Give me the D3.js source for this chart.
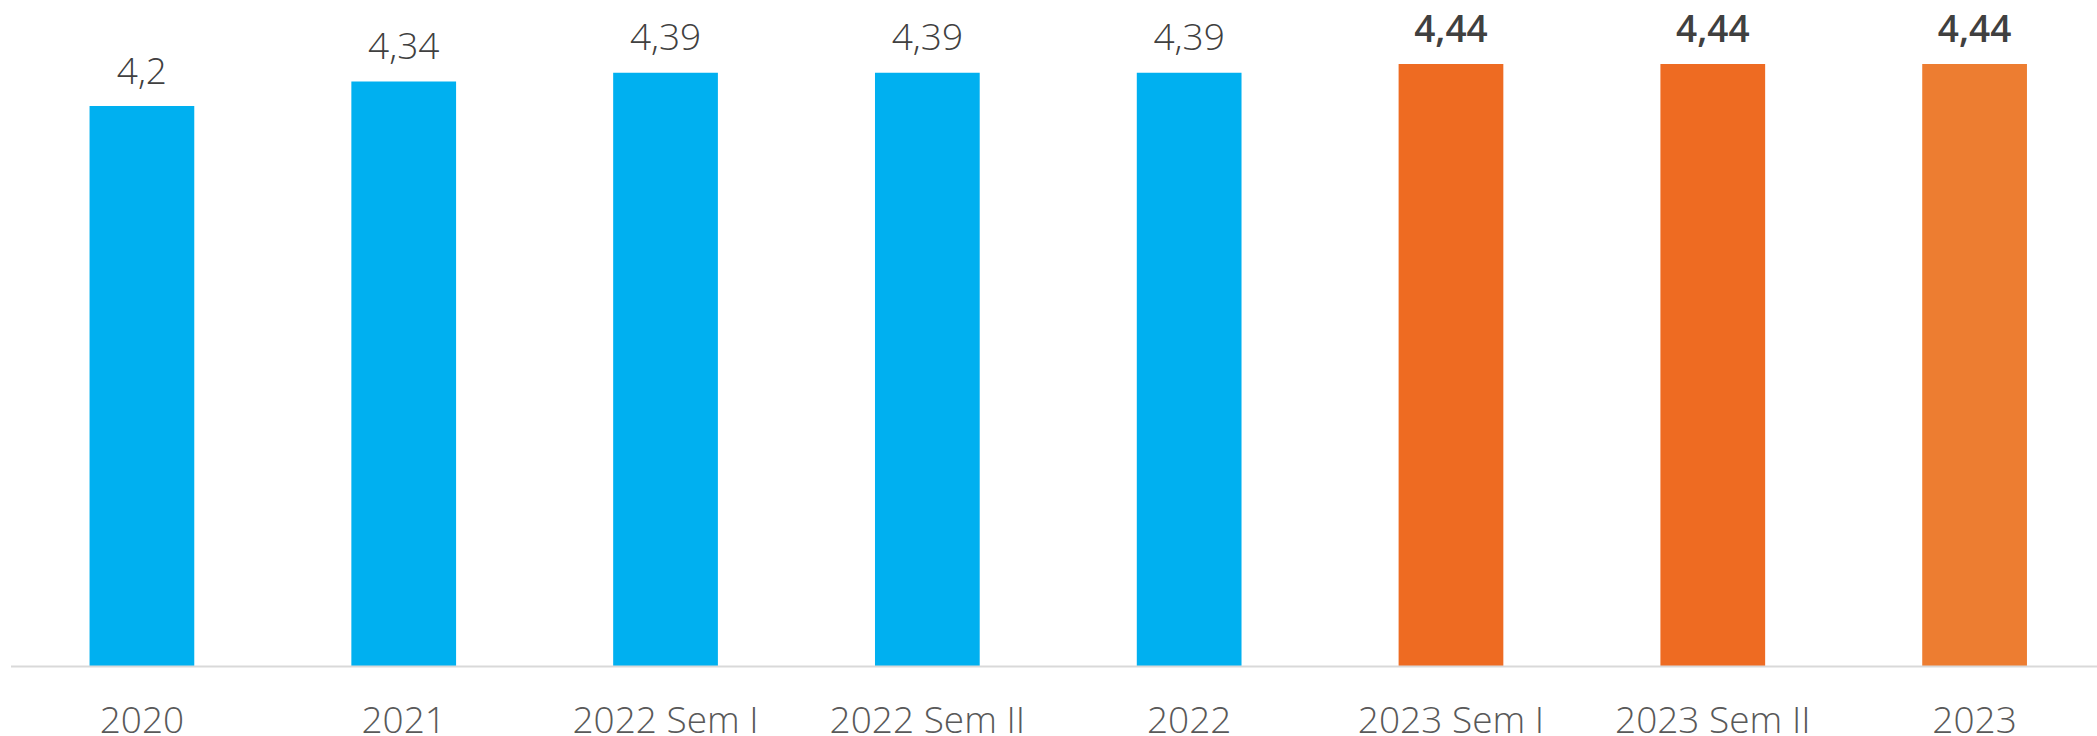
<!DOCTYPE html>
<html>
<head>
<meta charset="utf-8">
<script src="https://cdn.jsdelivr.net/npm/d3@7"></script>
<style>
  html, body { margin: 0; padding: 0; background: #ffffff; }
  svg { display: block; }
</style>
</head>
<body>
<svg id="chart" width="2097" height="736"></svg>
<script>
const categories = ["2020", "2021", "2022 Sem I", "2022 Sem II", "2022", "2023 Sem I", "2023 Sem II", "2023"];
const values = [4.2, 4.34, 4.39, 4.39, 4.39, 4.44, 4.44, 4.44];
const valueLabels = ["4,2", "4,34", "4,39", "4,39", "4,39", "4,44", "4,44", "4,44"];
const barColors = ["#00B0F0", "#00B0F0", "#00B0F0", "#00B0F0", "#00B0F0", "#EE6B22", "#EE6B22", "#ED7D31"];
const boldLabel = [false, false, false, false, false, true, true, true];

const svg = d3.select("#chart");
const W = 2097, H = 736;

const x = d3.scaleBand()
  .domain(categories)
  .range([11, 2105.5])
  .paddingInner(0.6)
  .paddingOuter(0.3);

const y = d3.scaleLinear()
  .domain([1, 4.5])
  .range([666, 53.5]);

// bars
svg.append("g").selectAll("rect")
  .data(categories)
  .join("rect")
  .attr("x", d => x(d))
  .attr("width", x.bandwidth())
  .attr("y", (d, i) => y(values[i]))
  .attr("height", (d, i) => y.range()[0] - y(values[i]))
  .attr("fill", (d, i) => barColors[i]);

// x axis
const xAxis = d3.axisBottom(x).tickSize(0).tickPadding(0);
const gx = svg.append("g")
  .attr("transform", `translate(0,${y.range()[0]})`)
  .call(xAxis);
gx.select(".domain")
  .attr("d", `M11,0.5H${W}`)
  .attr("stroke", "#d9d9d9")
  .attr("stroke-width", 2);
gx.selectAll(".tick text")
  .attr("y", 67)
  .attr("dy", 0)
  .attr("fill", "#595959")
  .style("font-family", "'Open Sans', sans-serif")
  .style("font-weight", 300)
  .style("font-size", "37px");

// value labels
svg.append("g").selectAll("text")
  .data(categories)
  .join("text")
  .attr("x", d => x(d) + x.bandwidth() / 2)
  .attr("y", (d, i) => y(values[i]) - 22.5)
  .attr("text-anchor", "middle")
  .attr("fill", "#404040")
  .style("font-family", "'Open Sans', sans-serif")
  .style("font-weight", (d, i) => boldLabel[i] ? 600 : 300)
  .style("font-size", "37px")
  .text((d, i) => valueLabels[i]);
</script>
</body>
</html>
